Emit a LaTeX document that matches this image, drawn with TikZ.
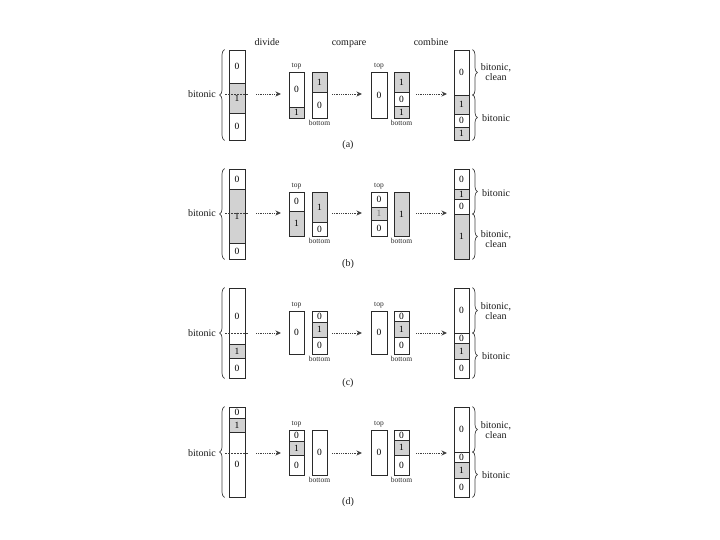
\documentclass[tikz,border=0pt]{standalone}
\usepackage{fontspec}
\setmainfont{Liberation Serif}
\usetikzlibrary{decorations.pathreplacing,arrows.meta}
\definecolor{gfill}{HTML}{D2D2D2}
\definecolor{lnc}{HTML}{2A2A2A}
\tikzset{
  cellbox/.style={draw=lnc,line width=0.9pt,inner sep=0pt,font=\fontsize{9.5}{9.5}\selectfont},
  lab/.style={inner sep=0pt,font=\fontsize{10}{10}\selectfont,text=black!90,align=center},
  smalllab/.style={inner sep=0pt,font=\fontsize{7.5}{7.5}\selectfont,text=black!85},
  bracedec/.style={draw=black!75,line width=0.7pt,decorate,decoration={brace,amplitude=5pt}},
  flowarrow/.style={draw=black!75,line width=0.8pt,densely dotted,-{Stealth[length=5.5pt,width=5pt]}},
  midline/.style={draw=black!75,line width=0.8pt,dashed,dash pattern=on 2pt off 1pt},
}
\newcommand\mycell[7]{\node[cellbox,fill=#6,minimum width={#4-#2},minimum height={#5-#3}] (#1) at ({(#2+#4)/2},{(#3+#5)/2}) {#7};}
\newcommand\rowconn[2]{%
  \coordinate (#1A1s) at (256,#2); \coordinate (#1A1e) at (281,#2);
  \coordinate (#1A2s) at (332,#2); \coordinate (#1A2e) at (362,#2);
  \coordinate (#1A3s) at (416,#2); \coordinate (#1A3e) at (447,#2);
  \coordinate (#1D1) at (225,#2); \coordinate (#1D2) at (249,#2);
  \draw[flowarrow] (#1A1s) -- (#1A1e);
  \draw[flowarrow] (#1A2s) -- (#1A2e);
  \draw[flowarrow] (#1A3s) -- (#1A3e);
  \draw[midline] (#1D1) -- (#1D2);
}
\begin{document}
\begin{tikzpicture}[x=1pt,y=-1pt]
\useasboundingbox (0,0) rectangle (720,540);
% headings
\node[lab,anchor=base] (hdiv) at (267,46) {divide};
\node[lab,anchor=base] (hcmp) at (349,46) {compare};
\node[lab,anchor=base] (hcmb) at (431,46) {combine};

% ================= row (a)
\mycell{aL1}{229}{50}{245}{83}{white}{0}
\mycell{aL2}{229}{83}{245}{113}{gfill}{1}
\mycell{aL3}{229}{113}{245}{140}{white}{0}
\mycell{aT1}{289}{72}{304}{107}{white}{0}
\mycell{aT2}{289}{107}{304}{118}{gfill}{1}
\mycell{aB1}{312}{72}{327}{92}{gfill}{1}
\mycell{aB2}{312}{92}{327}{118}{white}{0}
\mycell{aU1}{371}{72}{387}{118}{white}{0}
\mycell{aV1}{394}{72}{409}{92}{gfill}{1}
\mycell{aV2}{394}{92}{409}{106}{white}{0}
\mycell{aV3}{394}{106}{409}{118}{gfill}{1}
\mycell{aR1}{454}{50}{469}{95}{white}{0}
\mycell{aR2}{454}{95}{469}{114}{gfill}{1}
\mycell{aR3}{454}{114}{469}{127}{white}{0}
\mycell{aR4}{454}{127}{469}{140}{gfill}{1}
\rowconn{a}{94}
\node[smalllab,above=2pt] (atop) at (aT1.north) {top};
\node[smalllab,below=2pt] (abot) at (aB2.south) {bottom};
\node[smalllab,above=2pt] (atop2) at (aU1.north) {top};
\node[smalllab,below=2pt] (abot2) at (aV3.south) {bottom};
\draw[bracedec] ([xshift=-4pt]aL3.south west) -- ([xshift=-4pt]aL1.north west);
\node[lab,anchor=east] (abit) at (216,94) {bitonic};
\draw[bracedec] ([xshift=3pt]aR1.north east) -- ([xshift=3pt]aR1.south east);
\draw[bracedec] ([xshift=3pt]aR2.north east) -- ([xshift=3pt]aR4.south east);
\node[lab] (aRl1) at (496,72) {bitonic,\\clean};
\node[lab,anchor=west] (aRl2) at (482,118) {bitonic};
\node[lab] (acap) at (348,145) {(a)};

% ================= row (b)
\mycell{bL1}{229}{169}{245}{189}{white}{0}
\mycell{bL2}{229}{189}{245}{243}{gfill}{1}
\mycell{bL3}{229}{243}{245}{259}{white}{0}
\mycell{bT1}{289}{192}{304}{211}{white}{0}
\mycell{bT2}{289}{211}{304}{236}{gfill}{1}
\mycell{bB1}{312}{192}{327}{222}{gfill}{1}
\mycell{bB2}{312}{222}{327}{236}{white}{0}
\mycell{bU1}{371}{192}{387}{207}{white}{0}
\mycell{bU2}{371}{207}{387}{220}{gfill}{\textcolor{black!55}{1}}
\mycell{bU3}{371}{220}{387}{236}{white}{0}
\mycell{bV1}{394}{192}{409}{236}{gfill}{1}
\mycell{bR1}{454}{169}{469}{189}{white}{0}
\mycell{bR2}{454}{189}{469}{199}{gfill}{1}
\mycell{bR3}{454}{199}{469}{214}{white}{0}
\mycell{bR4}{454}{214}{469}{259}{gfill}{1}
\rowconn{b}{213}
\node[smalllab,above=2pt] (btop) at (bT1.north) {top};
\node[smalllab,below=2pt] (bbot) at (bB2.south) {bottom};
\node[smalllab,above=2pt] (btop2) at (bU1.north) {top};
\node[smalllab,below=2pt] (bbot2) at (bV1.south) {bottom};
\draw[bracedec] ([xshift=-4pt]bL3.south west) -- ([xshift=-4pt]bL1.north west);
\node[lab,anchor=east] (bbit) at (216,213) {bitonic};
\draw[bracedec] ([xshift=3pt]bR1.north east) -- ([xshift=3pt]bR3.south east);
\draw[bracedec] ([xshift=3pt]bR4.north east) -- ([xshift=3pt]bR4.south east);
\node[lab,anchor=west] (bRl1) at (482,193) {bitonic};
\node[lab] (bRl2) at (496,239) {bitonic,\\clean};
\node[lab] (bcap) at (348,264) {(b)};

% ================= row (c)
\mycell{cL1}{229}{288}{245}{344}{white}{0}
\mycell{cL2}{229}{344}{245}{358}{gfill}{1}
\mycell{cL3}{229}{358}{245}{378}{white}{0}
\mycell{cT1}{289}{311}{304}{354}{white}{0}
\mycell{cB1}{312}{311}{327}{322}{white}{0}
\mycell{cB2}{312}{322}{327}{337}{gfill}{1}
\mycell{cB3}{312}{337}{327}{354}{white}{0}
\mycell{cU1}{371}{311}{387}{354}{white}{0}
\mycell{cV1}{394}{311}{409}{321}{white}{0}
\mycell{cV2}{394}{321}{409}{337}{gfill}{1}
\mycell{cV3}{394}{337}{409}{354}{white}{0}
\mycell{cR1}{454}{288}{469}{333}{white}{0}
\mycell{cR2}{454}{333}{469}{343}{white}{0}
\mycell{cR3}{454}{343}{469}{359}{gfill}{1}
\mycell{cR4}{454}{359}{469}{378}{white}{0}
\rowconn{c}{333}
\node[smalllab,above=2pt] (ctop) at (cT1.north) {top};
\node[smalllab,below=2pt] (cbot) at (cB3.south) {bottom};
\node[smalllab,above=2pt] (ctop2) at (cU1.north) {top};
\node[smalllab,below=2pt] (cbot2) at (cV3.south) {bottom};
\draw[bracedec] ([xshift=-4pt]cL3.south west) -- ([xshift=-4pt]cL1.north west);
\node[lab,anchor=east] (cbit) at (216,333) {bitonic};
\draw[bracedec] ([xshift=3pt]cR1.north east) -- ([xshift=3pt]cR1.south east);
\draw[bracedec] ([xshift=3pt]cR2.north east) -- ([xshift=3pt]cR4.south east);
\node[lab] (cRl1) at (496,311) {bitonic,\\clean};
\node[lab,anchor=west] (cRl2) at (482,356) {bitonic};
\node[lab] (ccap) at (348,383) {(c)};

% ================= row (d)
\mycell{dL1}{229}{407}{245}{418}{white}{0}
\mycell{dL2}{229}{418}{245}{432}{gfill}{1}
\mycell{dL3}{229}{432}{245}{497}{white}{0}
\mycell{dT1}{289}{430}{304}{441}{white}{0}
\mycell{dT2}{289}{441}{304}{455}{gfill}{1}
\mycell{dT3}{289}{455}{304}{475}{white}{0}
\mycell{dB1}{312}{430}{327}{475}{white}{0}
\mycell{dU1}{371}{430}{387}{475}{white}{0}
\mycell{dV1}{394}{430}{409}{440}{white}{0}
\mycell{dV2}{394}{440}{409}{455}{gfill}{1}
\mycell{dV3}{394}{455}{409}{475}{white}{0}
\mycell{dR1}{454}{407}{469}{452}{white}{0}
\mycell{dR2}{454}{452}{469}{462}{white}{0}
\mycell{dR3}{454}{462}{469}{478}{gfill}{1}
\mycell{dR4}{454}{478}{469}{497}{white}{0}
\rowconn{d}{453}
\node[smalllab,above=2pt] (dtop) at (dT1.north) {top};
\node[smalllab,below=2pt] (dbot) at (dB1.south) {bottom};
\node[smalllab,above=2pt] (dtop2) at (dU1.north) {top};
\node[smalllab,below=2pt] (dbot2) at (dV3.south) {bottom};
\draw[bracedec] ([xshift=-4pt]dL3.south west) -- ([xshift=-4pt]dL1.north west);
\node[lab,anchor=east] (dbit) at (216,453) {bitonic};
\draw[bracedec] ([xshift=3pt]dR1.north east) -- ([xshift=3pt]dR1.south east);
\draw[bracedec] ([xshift=3pt]dR2.north east) -- ([xshift=3pt]dR4.south east);
\node[lab] (dRl1) at (496,430) {bitonic,\\clean};
\node[lab,anchor=west] (dRl2) at (482,475) {bitonic};
\node[lab] (dcap) at (348,502) {(d)};
\end{tikzpicture}
\end{document}
